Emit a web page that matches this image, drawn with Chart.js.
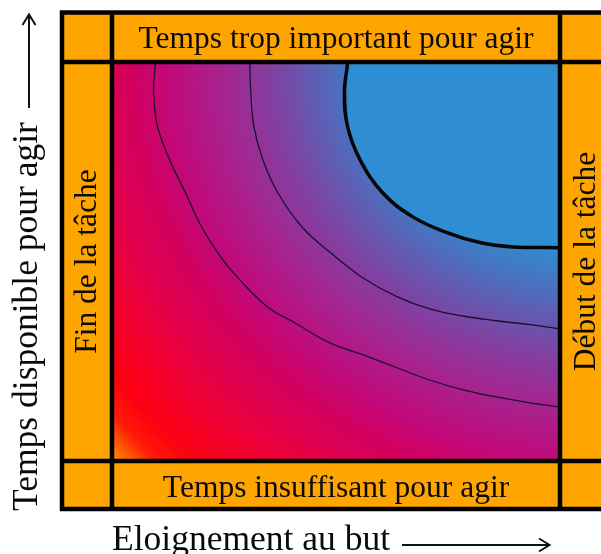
<!DOCTYPE html>
<html>
<head>
<meta charset="utf-8">
<script src="https://cdn.jsdelivr.net/npm/chart.js@4.4.1/dist/chart.umd.min.js"></script>
<style>
  html, body { margin: 0; padding: 0; background: #fff; }
  canvas { display: block; }
</style>
</head>
<body>
<canvas id="chart" width="601" height="554"></canvas>
<script>
// texts
const xTitle = 'Eloignement au but'
const yTitle = 'Temps disponible pour agir'
const topLabel = 'Temps trop important pour agir'
const bottomLabel = 'Temps insuffisant pour agir'
const leftLabel = 'Fin de la tâche'
const rightLabel = 'Début de la tâche'

// contour lines, both axes 0..100
const outerX = [9.3, 8.9, 9.8, 12.5, 16.1, 19.7, 24.0, 28.3, 34.6, 40.7, 48.6, 56.0, 63.7, 71.1, 78.6, 86.2, 93.7, 100]
const outerY = [100, 92.8, 84.2, 75.8, 67.4, 58.8, 51.2, 45.4, 38.5, 34.5, 29.4, 26.4, 23.1, 20.0, 17.5, 15.7, 14.2, 13.2]
const middleX = [30.6, 30.8, 31.5, 33.5, 36.9, 42.3, 49.0, 56.0, 63.7, 71.1, 78.6, 86.2, 93.7, 100]
const middleY = [100, 92.8, 84.2, 75.8, 67.4, 58.8, 52.0, 45.9, 41.1, 38.0, 36.2, 35.0, 34.0, 33.0]
const thickX = [52.6, 51.9, 52.6, 55.4, 60.5, 67.3, 75.0, 82.4, 89.8, 100]
const thickY = [100, 92.8, 84.2, 75.8, 67.4, 61.3, 57.3, 54.8, 53.7, 53.5]

const toPoints = (xs, ys) => xs.map((x, i) => ({ x, y: ys[i] }))

// colour ramp of the background (t roughly = distance from the top right corner)
const rampStops = [
  [0, '#2f8dd3'], [47, '#338ad0'], [55, '#4476c2'], [65, '#6459b0'], [75, '#843ea0'],
  [86, '#a42690'], [100, '#c00a7c'], [110, '#d2005f'], [120, '#e2004c'], [130, '#f00032'],
  [142, '#ff0010'], [148.5, '#ff1a08'], [156.5, '#ff8c00'],
]
const RAMP_MAX = 156.5

function buildRamp() {
  const c = document.createElement('canvas')
  c.width = 1600
  c.height = 1
  const g = c.getContext('2d')
  const grad = g.createLinearGradient(0, 0, 1600, 0)
  rampStops.forEach(([t, col]) => grad.addColorStop(t / RAMP_MAX, col))
  g.fillStyle = grad
  g.fillRect(0, 0, 1600, 1)
  return g.getImageData(0, 0, 1600, 1).data
}

const backdrop = {
  id: 'backdrop',
  beforeDatasetsDraw(chart) {
    const { ctx, chartArea: a, scales: { x, y } } = chart
    const w = Math.round(a.right - a.left)
    const h = Math.round(a.bottom - a.top)
    if (!this.img) {
      const ramp = buildRamp()
      const off = document.createElement('canvas')
      off.width = w
      off.height = h
      const octx = off.getContext('2d')
      const im = octx.createImageData(w, h)
      for (let j = 0; j < h; j++) {
        const vy = y.getValueForPixel(a.top + j + 0.5)
        for (let i = 0; i < w; i++) {
          const vx = x.getValueForPixel(a.left + i + 0.5)
          const d = Math.hypot(100 - vx, 100 - vy)
          const t = Math.min(RAMP_MAX, d + 0.15 * (100 - vx))
          const k = Math.min(1599, Math.round((t / RAMP_MAX) * 1599)) * 4
          const p = (j * w + i) * 4
          im.data[p] = ramp[k]
          im.data[p + 1] = ramp[k + 1]
          im.data[p + 2] = ramp[k + 2]
          im.data[p + 3] = 255
        }
      }
      octx.putImageData(im, 0, 0)
      this.img = off
    }
    ctx.drawImage(this.img, a.left, a.top)
  },
}

const frame = {
  id: 'frame',
  afterDraw(chart) {
    const { ctx, chartArea: a } = chart
    const L = 62, T = 12.5, B = 509, R = 660
    const il = a.left - 2, ir = a.right + 2, it = a.top - 2, ib = a.bottom + 2
    const cx = (a.left + a.right) / 2
    const cy = (a.top + a.bottom) / 2
    ctx.save()

    ctx.fillStyle = '#ffa500'
    ctx.beginPath()
    ctx.rect(L, T, R - L, B - T)
    ctx.rect(a.left, a.top, a.right - a.left, a.bottom - a.top)
    ctx.fill('evenodd')

    ctx.strokeStyle = '#000'
    ctx.lineWidth = 4.5
    ctx.strokeRect(L, T, R - L, B - T)
    ctx.beginPath()
    ctx.moveTo(il, T); ctx.lineTo(il, B)
    ctx.moveTo(ir, T); ctx.lineTo(ir, B)
    ctx.moveTo(L, it); ctx.lineTo(R, it)
    ctx.moveTo(L, ib); ctx.lineTo(R, ib)
    ctx.stroke()

    ctx.fillStyle = '#0a0a0a'
    ctx.font = '31.5px "Liberation Serif", "DejaVu Serif", serif'
    ctx.textAlign = 'center'
    ctx.textBaseline = 'alphabetic'
    ctx.fillText(topLabel, cx, 48)
    ctx.fillText(bottomLabel, cx, 497)

    ctx.textBaseline = 'middle'
    ctx.save()
    ctx.translate(88, cy)
    ctx.rotate(-Math.PI / 2)
    ctx.fillText(leftLabel, 0, 0)
    ctx.restore()
    ctx.save()
    ctx.translate(587, cy)
    ctx.rotate(-Math.PI / 2)
    ctx.fillText(rightLabel, 0, 0)
    ctx.restore()

    // axis titles with arrows
    ctx.font = '35.5px "Liberation Serif", "DejaVu Serif", serif'
    ctx.textAlign = 'left'
    ctx.textBaseline = 'alphabetic'
    ctx.fillText(xTitle, 112, 550)
    ctx.save()
    ctx.translate(37, 511)
    ctx.rotate(-Math.PI / 2)
    ctx.fillText(yTitle, 0, 0)
    ctx.restore()

    ctx.strokeStyle = '#111'
    ctx.lineWidth = 2
    ctx.beginPath()
    ctx.moveTo(402, 545); ctx.lineTo(549, 545)
    ctx.moveTo(539, 538.5); ctx.lineTo(549.5, 545); ctx.lineTo(539, 551.5)
    ctx.moveTo(29, 108); ctx.lineTo(29, 15)
    ctx.moveTo(22.5, 25); ctx.lineTo(29, 14.5); ctx.lineTo(35.5, 25)
    ctx.stroke()
    ctx.restore()
  },
}

new Chart(document.getElementById('chart'), {
  type: 'scatter',
  data: {
    datasets: [
      {
        data: toPoints(thickX, thickY),
        showLine: true,
        borderColor: '#050505',
        borderWidth: 3.5,
        backgroundColor: '#2f8dd3',
        fill: 'end',
        tension: 0.4,
        pointRadius: 0,
      },
      {
        data: toPoints(middleX, middleY),
        showLine: true,
        borderColor: '#1a0f2e',
        borderWidth: 1.3,
        fill: false,
        tension: 0.4,
        pointRadius: 0,
      },
      {
        data: toPoints(outerX, outerY),
        showLine: true,
        borderColor: '#1a0f2e',
        borderWidth: 1.3,
        fill: false,
        tension: 0.4,
        pointRadius: 0,
      },
    ],
  },
  options: {
    responsive: false,
    animation: false,
    layout: { padding: { left: 114, right: 43, top: 64, bottom: 95 } },
    scales: {
      x: { type: 'linear', min: 0, max: 100, display: false },
      y: { type: 'linear', min: 0, max: 100, display: false },
    },
    plugins: {
      legend: { display: false },
      tooltip: { enabled: false },
    },
  },
  plugins: [backdrop, frame],
})
</script>
</body>
</html>
